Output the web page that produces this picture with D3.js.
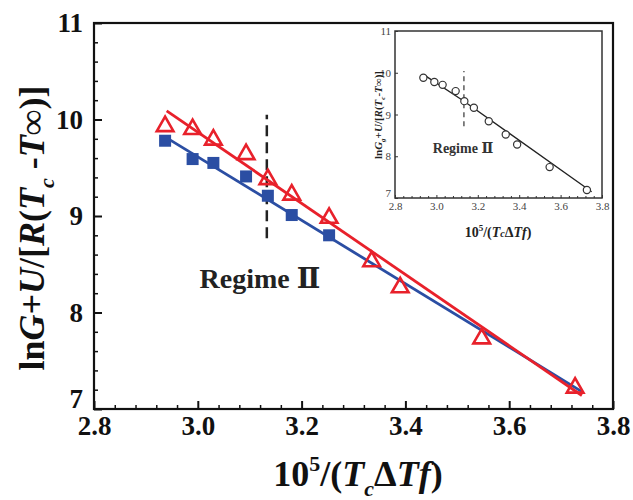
<!DOCTYPE html>
<html>
<head>
<meta charset="utf-8">
<script src="https://cdn.jsdelivr.net/npm/d3@7"></script>
<style>
  body { margin: 0; background: #fff; }
  svg { display: block; }
  svg text { font-family: "Liberation Serif", "Tinos", "Times New Roman", "Nimbus Roman", "DejaVu Serif", serif !important; font-weight: bold; }
</style>
</head>
<body>
<svg id="chart"></svg>
<script>
const red = "#e8212b"
const blue = "#2b4ea3"

// 1. DATA *******************************
const xVals = [2.937, 2.990, 3.030, 3.093, 3.135, 3.181, 3.253, 3.335, 3.390, 3.547, 3.727]
const redY = [9.94, 9.91, 9.80, 9.65, 9.39, 9.23, 8.99, 8.54, 8.27, 7.74, 7.23]
const blueX = [2.937, 2.990, 3.030, 3.093, 3.135, 3.181, 3.253]
const blueY = [9.78, 9.59, 9.55, 9.41, 9.21, 9.01, 8.80]

const fitX = [2.94, 3.74]
const redFitY = [10.09, 7.14]
const blueFitY = [9.81, 7.18]

const insetY = [9.88, 9.78, 9.71, 9.56, 9.32, 9.16, 8.84, 8.52, 8.28, 7.74, 7.19]
const insetFitX = [2.94, 3.13, 3.75]
const insetFitY = [9.95, 9.33, 7.15]

const regimeX = 3.133
const regimeY = [8.77, 10.05]
const insetRegimeY = [8.72, 10.04]

const xTicks = [2.8, 3.0, 3.2, 3.4, 3.6, 3.8]
const yTicks = [7, 8, 9, 10, 11]
const xMinor = [2.84, 2.88, 2.92, 2.96, 3.04, 3.08, 3.12, 3.16, 3.24, 3.28, 3.32, 3.36, 3.44, 3.48, 3.52, 3.56, 3.64, 3.68, 3.72, 3.76]
const yMinor = [7.2, 7.4, 7.6, 7.8, 8.2, 8.4, 8.6, 8.8, 9.2, 9.4, 9.6, 9.8, 10.2, 10.4, 10.6, 10.8]

// 2. CANVAS *******************************
const svg = d3.select("#chart")
  .attr("width", 633)
  .attr("height", 500)

const x = d3.scaleLinear().domain([2.8, 3.8]).range([94, 613])
const y = d3.scaleLinear().domain([7, 11]).range([409, 23])

// 3. AXES *******************************
const xAxis = svg.append("g")
  .attr("transform", `translate(0, ${y(7)})`)
  .call(d3.axisBottom(x).tickValues(xTicks).tickFormat(d3.format(".1f"))
    .tickSizeInner(-8).tickSizeOuter(0).tickPadding(6))
xAxis.select(".domain").remove()
xAxis.selectAll("line").attr("stroke", "#111").attr("stroke-width", 2)
xAxis.selectAll("text")
  .attr("font-size", 27)
  .attr("fill", "#111").attr("dy", "0.74em")

svg.append("g")
  .attr("transform", `translate(0, ${y(7)})`)
  .call(d3.axisBottom(x).tickValues(xMinor).tickFormat("").tickSizeInner(-4).tickSizeOuter(0))
  .call(g => g.select(".domain").remove())
  .selectAll("line").attr("stroke", "#111").attr("stroke-width", 1.5)

const yAxis = svg.append("g")
  .attr("transform", `translate(${x(2.8)}, 0)`)
  .call(d3.axisLeft(y).tickValues(yTicks).tickFormat(d3.format("d"))
    .tickSizeInner(-8).tickSizeOuter(0).tickPadding(11))
yAxis.select(".domain").remove()
yAxis.selectAll("line").attr("stroke", "#111").attr("stroke-width", 2)
yAxis.selectAll("text")
  .attr("font-size", 27)
  .attr("fill", "#111")
  .attr("dy", d => d === 7 ? "-0.05em" : "0.32em")

svg.append("g")
  .attr("transform", `translate(${x(2.8)}, 0)`)
  .call(d3.axisLeft(y).tickValues(yMinor).tickFormat("").tickSizeInner(-4).tickSizeOuter(0))
  .call(g => g.select(".domain").remove())
  .selectAll("line").attr("stroke", "#111").attr("stroke-width", 1.5)

// frame
svg.append("rect")
  .attr("x", x(2.8)).attr("y", y(11))
  .attr("width", x(3.8) - x(2.8)).attr("height", y(7) - y(11))
  .attr("fill", "none").attr("stroke", "#111").attr("stroke-width", 2.2)

// axis titles
const yTitle = svg.append("text")
  .attr("transform", `translate(44, 228) rotate(-90)`)
  .attr("text-anchor", "middle")
  .attr("font-size", 36)
  .attr("fill", "#111")
yTitle.append("tspan").text("ln")
yTitle.append("tspan").attr("font-style", "italic").text("G")
yTitle.append("tspan").text("+")
yTitle.append("tspan").attr("font-style", "italic").text("U")
yTitle.append("tspan").text("/[")
yTitle.append("tspan").attr("font-style", "italic").text("R")
yTitle.append("tspan").text("(")
yTitle.append("tspan").attr("font-style", "italic").text("T")
yTitle.append("tspan").attr("font-style", "italic").attr("font-size", 22).attr("dy", 10).text("c")
yTitle.append("tspan").attr("dy", -10).text(" -")
yTitle.append("tspan").attr("font-style", "italic").text("T")
yTitle.append("tspan").text("∞)]")

const xTitle = svg.append("text")
  .attr("x", 358).attr("y", 486)
  .attr("text-anchor", "middle")
  .attr("font-size", 36)
  .attr("fill", "#111")
xTitle.append("tspan").text("10")
xTitle.append("tspan").attr("font-size", 22).attr("dy", -15).text("5")
xTitle.append("tspan").attr("dy", 15).text("/(")
xTitle.append("tspan").attr("font-style", "italic").text("T")
xTitle.append("tspan").attr("font-style", "italic").attr("font-size", 22).attr("dy", 10).text("c")
xTitle.append("tspan").attr("dy", -10).text("Δ")
xTitle.append("tspan").attr("font-style", "italic").text("Tf")
xTitle.append("tspan").text(")")

// 4. DATA MARKS *******************************
svg.append("line")
  .attr("x1", x(regimeX)).attr("x2", x(regimeX))
  .attr("y1", y(regimeY[0])).attr("y2", y(regimeY[1]))
  .attr("stroke", "#222").attr("stroke-width", 2.5).attr("stroke-dasharray", "11,6")

svg.append("text")
  .attr("x", 260).attr("y", 288)
  .attr("text-anchor", "middle")
  .attr("font-size", 28).attr("fill", "#222")
  .text("Regime Ⅱ")

const line = d3.line().x(d => x(d[0])).y(d => y(d[1]))

svg.append("path")
  .datum(fitX.map((v, i) => [v, blueFitY[i]]))
  .attr("d", line)
  .attr("fill", "none").attr("stroke", blue).attr("stroke-width", 2.8)

svg.append("path")
  .datum(fitX.map((v, i) => [v, redFitY[i]]))
  .attr("d", line)
  .attr("fill", "none").attr("stroke", red).attr("stroke-width", 2.8)

svg.append("g")
  .selectAll("rect")
  .data(blueX.map((v, i) => [v, blueY[i]]))
  .join("rect")
  .attr("x", d => x(d[0]) - 6).attr("y", d => y(d[1]) - 6)
  .attr("width", 12).attr("height", 12)
  .attr("fill", blue)

const tri = d3.symbol().type(d3.symbolTriangle).size(120)
svg.append("g")
  .selectAll("path")
  .data(xVals.map((v, i) => [v, redY[i]]))
  .join("path")
  .attr("transform", d => `translate(${x(d[0])}, ${y(d[1]) + 1})`)
  .attr("d", tri)
  .attr("fill", "none").attr("stroke", red).attr("stroke-width", 2.6)

// 5. INSET *******************************
const ix = d3.scaleLinear().domain([2.8, 3.8]).range([395, 602])
const iy = d3.scaleLinear().domain([7, 11]).range([198, 31])

const inset = svg.append("g").classed("inset", true)

inset.append("rect")
  .attr("x", ix(2.8)).attr("y", iy(11))
  .attr("width", ix(3.8) - ix(2.8)).attr("height", iy(7) - iy(11))
  .attr("fill", "#fff").attr("stroke", "#333").attr("stroke-width", 1.5)

const ixAxis = inset.append("g")
  .attr("transform", `translate(0, ${iy(7)})`)
  .call(d3.axisBottom(ix).tickValues(xTicks).tickFormat(d3.format(".1f"))
    .tickSizeInner(-3).tickSizeOuter(0).tickPadding(4))
ixAxis.select(".domain").remove()
ixAxis.selectAll("line").attr("stroke", "#333")
ixAxis.selectAll("text")
  .attr("font-size", 11).style("font-weight", "normal")
  .attr("fill", "#444")

inset.append("g")
  .attr("transform", `translate(0, ${iy(7)})`)
  .call(d3.axisBottom(ix).tickValues(xMinor).tickFormat("").tickSizeInner(-2).tickSizeOuter(0))
  .call(g => g.select(".domain").remove())
  .selectAll("line").attr("stroke", "#333")

const iyAxis = inset.append("g")
  .attr("transform", `translate(${ix(2.8)}, 0)`)
  .call(d3.axisLeft(iy).tickValues(yTicks).tickFormat(d3.format("d"))
    .tickSizeInner(-3).tickSizeOuter(0).tickPadding(4))
iyAxis.select(".domain").remove()
iyAxis.selectAll("line").attr("stroke", "#333")
iyAxis.selectAll("text")
  .attr("font-size", 11).style("font-weight", "normal")
  .attr("fill", "#444")
  .attr("dy", d => d === 7 ? "-0.1em" : "0.32em")

const iyTitle = inset.append("text")
  .attr("transform", `translate(382, 115) rotate(-90)`)
  .attr("text-anchor", "middle")
  .attr("font-size", 11)
  .attr("fill", "#222")
iyTitle.append("tspan").text("ln")
iyTitle.append("tspan").attr("font-style", "italic").text("G")
iyTitle.append("tspan").attr("font-style", "italic").attr("font-size", 7).attr("dy", 3).text("g")
iyTitle.append("tspan").attr("dy", -3).text("+")
iyTitle.append("tspan").attr("font-style", "italic").text("U")
iyTitle.append("tspan").text("/[")
iyTitle.append("tspan").attr("font-style", "italic").text("R")
iyTitle.append("tspan").text("(")
iyTitle.append("tspan").attr("font-style", "italic").text("T")
iyTitle.append("tspan").attr("font-style", "italic").attr("font-size", 7).attr("dy", 3).text("c")
iyTitle.append("tspan").attr("dy", -3).text("-")
iyTitle.append("tspan").attr("font-style", "italic").text("T")
iyTitle.append("tspan").text("∞)]")

const ixTitle = inset.append("text")
  .attr("x", 498).attr("y", 237)
  .attr("text-anchor", "middle")
  .attr("font-size", 14)
  .attr("fill", "#222")
ixTitle.append("tspan").text("10")
ixTitle.append("tspan").attr("font-size", 9).attr("dy", -6).text("5")
ixTitle.append("tspan").attr("dy", 6).text("/(")
ixTitle.append("tspan").attr("font-style", "italic").text("T")
ixTitle.append("tspan").attr("font-style", "italic").attr("font-size", 10).text("c")
ixTitle.append("tspan").text("Δ")
ixTitle.append("tspan").attr("font-style", "italic").text("Tf")
ixTitle.append("tspan").text(")")

inset.append("line")
  .attr("x1", ix(regimeX)).attr("x2", ix(regimeX))
  .attr("y1", iy(insetRegimeY[0])).attr("y2", iy(insetRegimeY[1]))
  .attr("stroke", "#333").attr("stroke-width", 1.2).attr("stroke-dasharray", "5,4")

inset.append("text")
  .attr("x", 463).attr("y", 153)
  .attr("text-anchor", "middle")
  .attr("font-size", 14).attr("fill", "#333")
  .text("Regime Ⅱ")

inset.append("path")
  .datum(insetFitX.map((v, i) => [v, insetFitY[i]]))
  .attr("d", d3.line().x(d => ix(d[0])).y(d => iy(d[1])))
  .attr("fill", "none").attr("stroke", "#222").attr("stroke-width", 1.3)

inset.append("g")
  .selectAll("circle")
  .data(xVals.map((v, i) => [v, insetY[i]]))
  .join("circle")
  .attr("cx", d => ix(d[0])).attr("cy", d => iy(d[1]))
  .attr("r", 3.6)
  .attr("fill", "#fff").attr("stroke", "#333").attr("stroke-width", 1.2)
</script>
</body>
</html>
